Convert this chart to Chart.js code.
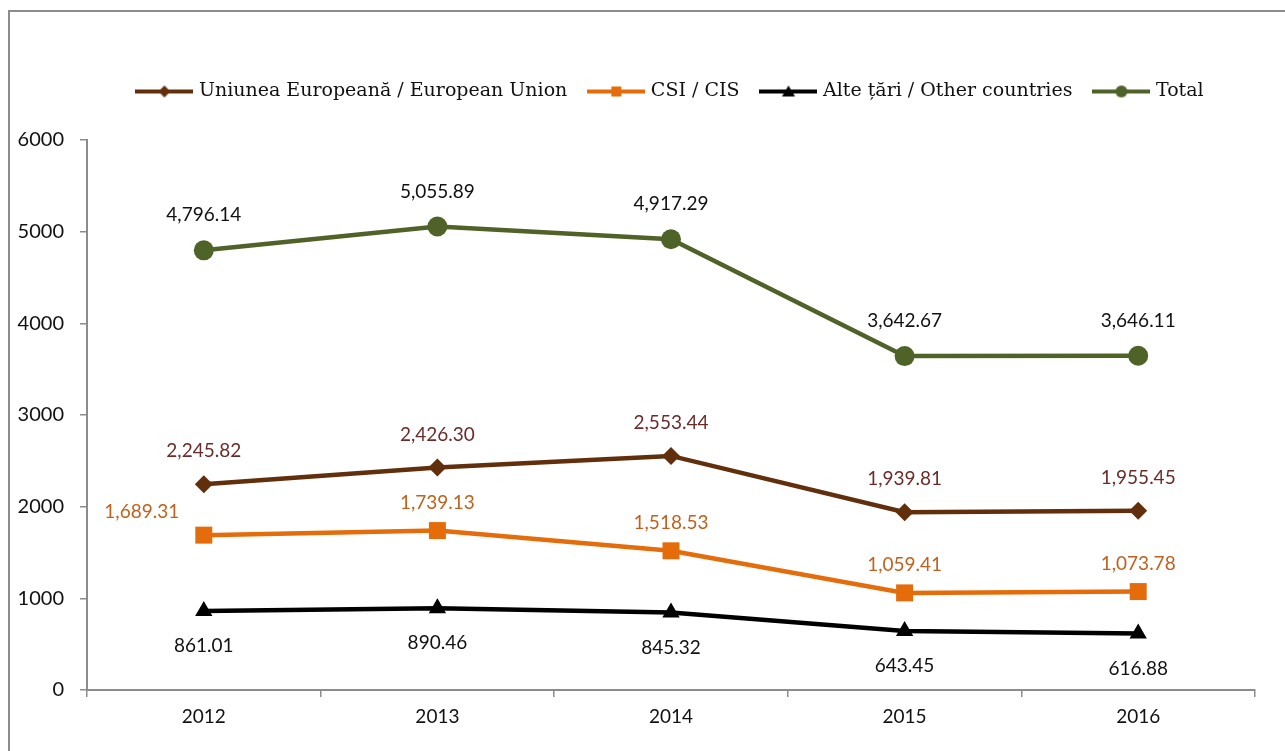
<!DOCTYPE html>
<html>
<head>
<meta charset="utf-8">
<script src="https://cdn.jsdelivr.net/npm/chart.js@4/dist/chart.umd.min.js"></script>
<style>
  html, body { margin: 0; padding: 0; background: #fff; }
  #wrap { position: relative; width: 1285px; height: 751px; overflow: hidden; }
  #frame { position: absolute; left: 8px; top: 10px; width: 1300px; height: 800px;
           border-left: 2px solid #8c8c8c; border-top: 2px solid #8c8c8c; }
  canvas { position: absolute; left: 0; top: 0; }
</style>
</head>
<body>
<div id="wrap">
  <div id="frame"></div>
  <canvas id="graph" width="1285" height="751"></canvas>
</div>
<script>
// ani på x-aksen
const years = ['2012', '2013', '2014', '2015', '2016'];

// verdier per serie
const euValues = [2245.82, 2426.30, 2553.44, 1939.81, 1955.45];
const csiValues = [1689.31, 1739.13, 1518.53, 1059.41, 1073.78];
const otherValues = [861.01, 890.46, 845.32, 643.45, 616.88];
const totalValues = [4796.14, 5055.89, 4917.29, 3642.67, 3646.11];

// navn i legend
const seriesNames = ['Uniunea Europeană / European Union', 'CSI / CIS', 'Alte țări / Other countries', 'Total'];

// y-akse
const yMin = 0;
const yMax = 6000;
const yStep = 1000;

const numFont = 'Lato';
const legendFont = 'DejaVu Serif';

// lager et lite bilde til legend (linje + markør)
function legendIcon(color, shape) {
    const c = document.createElement('canvas');
    c.width = 58; c.height = 16;
    const g = c.getContext('2d');
    g.strokeStyle = color; g.fillStyle = color; g.lineWidth = 4;
    g.beginPath(); g.moveTo(0, 8); g.lineTo(58, 8); g.stroke();
    g.beginPath();
    if (shape === 'diamond') {
        g.moveTo(29, 2); g.lineTo(35, 8); g.lineTo(29, 14); g.lineTo(23, 8);
    } else if (shape === 'square') {
        g.rect(24, 3, 10, 10);
    } else if (shape === 'triangle') {
        g.moveTo(29, 2); g.lineTo(35.5, 13); g.lineTo(22.5, 13);
    } else {
        g.arc(29, 8, 6, 0, Math.PI * 2);
    }
    g.closePath(); g.fill();
    return c;
}

const series = [
    { name: seriesNames[0], data: euValues, color: '#622f0c', label: '#6b2b29', shape: 'diamond', point: 'rectRot', radius: 9, dy: -33 },
    { name: seriesNames[1], data: csiValues, color: '#e46c0a', label: '#c0621d', shape: 'square', point: 'rect', radius: 12, dy: -28 },
    { name: seriesNames[2], data: otherValues, color: '#000000', label: '#111111', shape: 'triangle', point: 'triangle', radius: 10, dy: 35 },
    { name: seriesNames[3], data: totalValues, color: '#4f6228', label: '#111111', shape: 'circle', point: 'circle', radius: 10, dy: -35 }
];

// den første CSI-etiketten står til venstre for punktet i originalen
const labelShiftX = { 1: [-62, 0, 0, 0, 0] };
const labelShiftY = { 1: [5, 0, 0, 0, 0] };

// tegner verdiene ved punktene
const valueLabels = {
    id: 'valueLabels',
    afterDatasetsDraw(chart) {
        const ctx = chart.ctx;
        ctx.save();
        ctx.font = '19px ' + numFont;
        ctx.textAlign = 'center';
        ctx.textBaseline = 'middle';
        chart.data.datasets.forEach((ds, i) => {
            const meta = chart.getDatasetMeta(i);
            const s = series[i];
            meta.data.forEach((pt, j) => {
                const dx = labelShiftX[i] ? labelShiftX[i][j] : 0;
                const dy = labelShiftY[i] ? labelShiftY[i][j] : 0;
                ctx.fillStyle = s.label;
                const txt = ds.data[j].toLocaleString('en-US', { minimumFractionDigits: 2, maximumFractionDigits: 2 });
                ctx.fillText(txt, pt.x + dx, pt.y + s.dy + dy);
            });
        });
        ctx.restore();
    }
};

// flytter legenden litt opp og til høyre (som i originalen)
const legendShift = {
    id: 'legendShift',
    afterLayout(chart) {
        const lg = chart.legend;
        if (!lg) return;
        lg.left += 44; lg.right += 44;
        lg.top -= 29; lg.bottom -= 29;
    }
};

const ctx = document.getElementById('graph').getContext('2d');

const chart = new Chart(ctx, {
    type: 'line',
    data: {
        labels: years,
        datasets: series.map(s => ({
            label: s.name,
            data: s.data,
            borderColor: s.color,
            backgroundColor: s.color,
            borderWidth: 4.5,
            pointStyle: s.point,
            pointRadius: s.radius,
            pointHoverRadius: s.radius,
            pointBorderWidth: 0,
            tension: 0,
            icon: legendIcon(s.color, s.shape)
        }))
    },
    options: {
        responsive: false,
        animation: false,
        events: [],
        layout: { padding: { left: 0, right: 30, top: 87, bottom: 0 } },
        plugins: {
            tooltip: { enabled: false },
            legend: {
                position: 'top',
                labels: {
                    usePointStyle: true,
                    pointStyleWidth: 50,
                    padding: 24,
                    color: '#111',
                    font: { family: legendFont, size: 19 },
                    generateLabels(chart) {
                        return chart.data.datasets.map((ds, i) => ({
                            text: ds.label,
                            pointStyle: ds.icon,
                            fillStyle: ds.borderColor,
                            strokeStyle: ds.borderColor,
                            lineWidth: 0,
                            fontColor: '#111',
                            hidden: false,
                            datasetIndex: i
                        }));
                    }
                }
            }
        },
        scales: {
            x: {
                offset: true,
                grid: { offset: true, drawOnChartArea: false, drawTicks: true, tickLength: 7, color: '#8c8c8c', lineWidth: 1.5 },
                border: { display: true, color: '#8c8c8c', width: 2 },
                ticks: { color: '#111', font: { family: numFont, size: 19 }, padding: 8 },
                afterFit(scale) { scale.height = 61; }
            },
            y: {
                min: yMin,
                max: yMax,
                ticks: { stepSize: yStep, color: '#111', font: { family: numFont, size: 20 }, padding: 16,
                         callback: v => String(v) },
                grid: { drawOnChartArea: false, drawTicks: true, tickLength: 7, color: '#8c8c8c', lineWidth: 1.5 },
                border: { display: true, color: '#8c8c8c', width: 2 },
                afterFit(scale) { scale.width = 87; }
            }
        }
    },
    plugins: [valueLabels, legendShift]
});
</script>
</body>
</html>
